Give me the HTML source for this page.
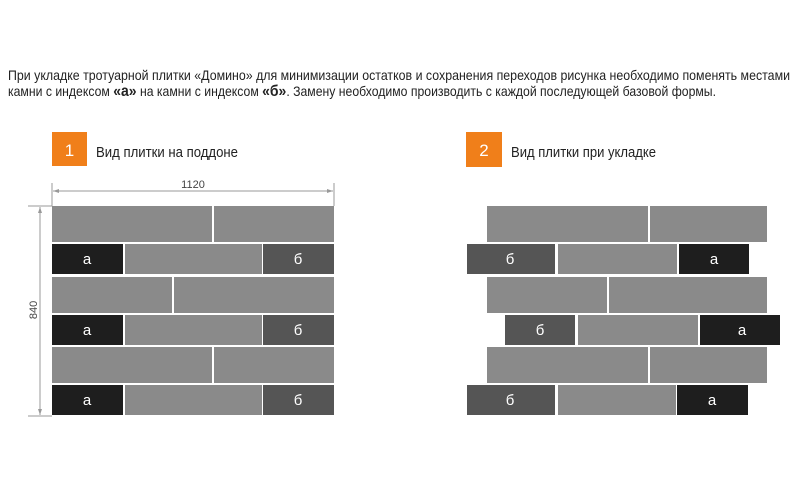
<!DOCTYPE html>
<html><head><meta charset="utf-8"><style>
html,body{margin:0;padding:0;background:#fff;}
svg{display:block;font-family:"Liberation Sans","DejaVu Sans",sans-serif;}
</style></head><body>
<svg width="800" height="496" viewBox="0 0 800 496" xmlns="http://www.w3.org/2000/svg">
<rect width="800" height="496" fill="#fff"/>
<g fill="#222" font-size="14">
<text x="8" y="80" textLength="782" lengthAdjust="spacingAndGlyphs">При укладке тротуарной плитки «Домино» для минимизации остатков и сохранения переходов рисунка необходимо поменять местами</text>
<text x="8" y="96" textLength="708" lengthAdjust="spacingAndGlyphs">камни с индексом <tspan font-weight="bold" font-size="16">«а»</tspan> на камни с индексом <tspan font-weight="bold" font-size="16">«б»</tspan>. Замену необходимо производить с каждой последующей базовой формы.</text>
</g>
<rect x="52" y="132" width="35" height="34" fill="#f07f1a"/>
<text x="69.5" y="156" fill="#fff" font-size="17" text-anchor="middle">1</text>
<text x="96" y="157" fill="#222" font-size="15" textLength="142" lengthAdjust="spacingAndGlyphs">Вид плитки на поддоне</text>
<rect x="466" y="132" width="36" height="35" fill="#f07f1a"/>
<text x="484" y="156" fill="#fff" font-size="17" text-anchor="middle">2</text>
<text x="511" y="157" fill="#222" font-size="15" textLength="145" lengthAdjust="spacingAndGlyphs">Вид плитки при укладке</text>
<g stroke="#999" stroke-width="1" fill="none">
<line x1="52" y1="183" x2="52" y2="206"/><line x1="334" y1="183" x2="334" y2="206"/>
<line x1="53" y1="191" x2="333" y2="191"/>
<line x1="28" y1="206" x2="52" y2="206"/><line x1="28" y1="416" x2="52" y2="416"/>
<line x1="40" y1="207" x2="40" y2="415"/>
</g>
<g fill="#999">
<polygon points="53,191 59,189 59,193"/><polygon points="333,191 327,189 327,193"/>
<polygon points="40,207 38,213 42,213"/><polygon points="40,415 38,409 42,409"/>
</g>
<text x="193" y="188" font-size="11" fill="#444" text-anchor="middle">1120</text>
<text transform="translate(37,310) rotate(-90)" font-size="11" fill="#444" text-anchor="middle">840</text>
<g fill="#8a8a8a">
<rect x="52" y="206" width="160" height="36"/><rect x="214" y="206" width="120" height="36"/>
<rect x="125" y="244" width="137" height="30"/>
<rect x="52" y="277" width="120" height="36"/><rect x="174" y="277" width="160" height="36"/>
<rect x="125" y="315" width="137" height="30"/>
<rect x="52" y="347" width="160" height="36"/><rect x="214" y="347" width="120" height="36"/>
<rect x="125" y="385" width="137" height="30"/>
<rect x="487" y="206" width="161" height="36"/><rect x="650" y="206" width="117" height="36"/>
<rect x="558" y="244" width="119" height="30"/>
<rect x="487" y="277" width="120" height="36"/><rect x="609" y="277" width="158" height="36"/>
<rect x="578" y="315" width="120" height="30"/>
<rect x="487" y="347" width="161" height="36"/><rect x="650" y="347" width="117" height="36"/>
<rect x="558" y="385" width="118" height="30"/>
</g>
<g fill="#1e1e1e">
<rect x="52" y="244" width="71" height="30"/><rect x="52" y="315" width="71" height="30"/><rect x="52" y="385" width="71" height="30"/>
<rect x="679" y="244" width="70" height="30"/><rect x="700" y="315" width="80" height="30"/><rect x="677" y="385" width="71" height="30"/>
</g>
<g fill="#555">
<rect x="263" y="244" width="71" height="30"/><rect x="263" y="315" width="71" height="30"/><rect x="263" y="385" width="71" height="30"/>
<rect x="467" y="244" width="88" height="30"/><rect x="505" y="315" width="70" height="30"/><rect x="467" y="385" width="88" height="30"/>
</g>
<g fill="#fff" font-size="15" text-anchor="middle">
<text x="87" y="264">а</text><text x="87" y="335">а</text><text x="87" y="405">а</text>
<text x="298" y="264">б</text><text x="298" y="335">б</text><text x="298" y="405">б</text>
<text x="510" y="264">б</text><text x="540" y="335">б</text><text x="510" y="405">б</text>
<text x="714" y="264">а</text><text x="742" y="335">а</text><text x="712" y="405">а</text>
</g>
</svg>
</body></html>
